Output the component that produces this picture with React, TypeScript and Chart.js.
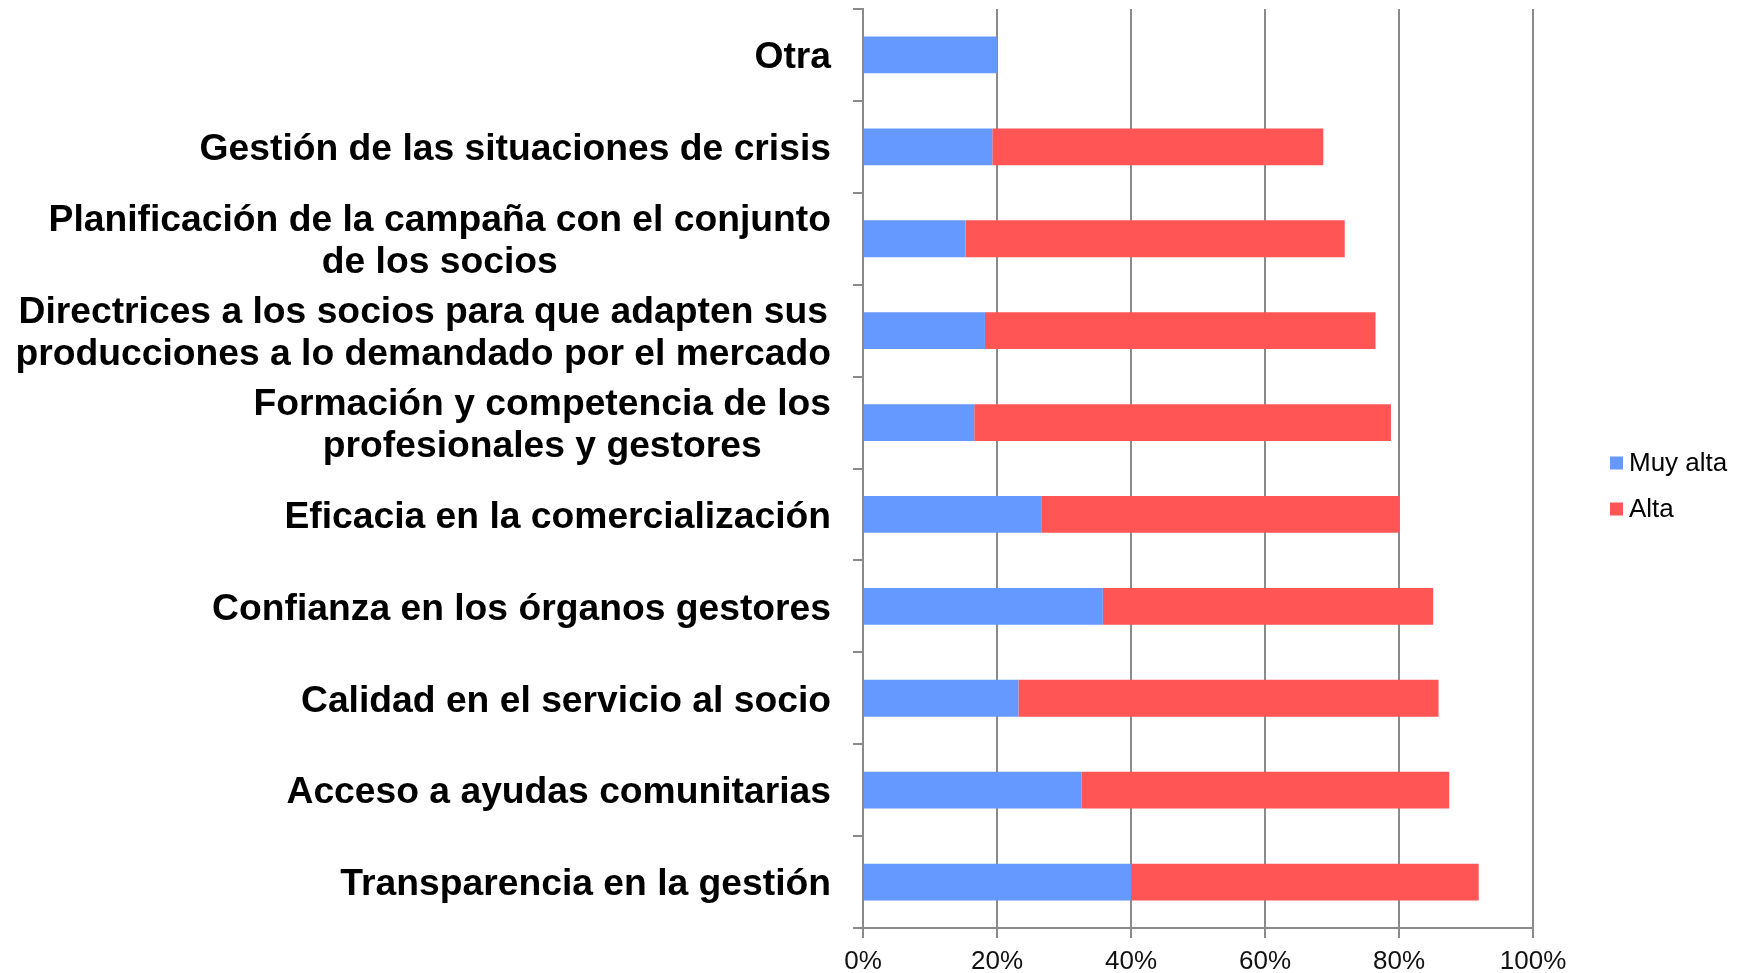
import React, { useEffect, useRef } from "react";
import { Chart, registerables } from "chart.js";

Chart.register(...registerables);

const categories: string[][] = [
  ["Otra"],
  ["Gestión de las situaciones de crisis"],
  ["Planificación de la campaña con el conjunto", "de los socios"],
  ["Directrices a los socios para que adapten sus", "producciones a lo demandado por el mercado"],
  ["Formación y competencia de los", "profesionales y gestores"],
  ["Eficacia en la comercialización"],
  ["Confianza en los órganos gestores"],
  ["Calidad en el servicio al socio"],
  ["Acceso a ayudas comunitarias"],
  ["Transparencia en la gestión"],
];

const muyAlta: number[] = [20.0, 19.3, 15.3, 18.2, 16.6, 26.6, 35.8, 23.2, 32.6, 40.0];
const alta: (number | null)[] = [null, 49.4, 56.6, 58.3, 62.2, 53.4, 49.3, 62.7, 54.9, 51.9];
const seriesNames = ["Muy alta", "Alta"];
const seriesColors = ["#6699FF", "#FF5555"];
const xTickStep = 20;

const GRID = "#8a8a8a";
const FONT = '"Liberation Sans", Arial, sans-serif';

const yLabelPlugin = {
  id: "yLabels",
  afterDraw(chart: any) {
    const ctx = chart.ctx;
    const y = chart.scales.y;
    ctx.save();
    ctx.font = `bold 37.25px ${FONT}`;
    ctx.fillStyle = "#000";
    ctx.textAlign = "center";
    ctx.textBaseline = "middle";
    const right = y.right - 32;
    const lh = 42;
    categories.forEach((lines, i) => {
      const cy = y.getPixelForValue(i) + 3;
      const w = Math.max(...lines.map((l) => ctx.measureText(l).width));
      const cx = right - w / 2;
      lines.forEach((l, j) => {
        ctx.fillText(l, cx, cy + (j - (lines.length - 1) / 2) * lh);
      });
    });
    ctx.restore();
  },
};

const legendPlugin = {
  id: "customLegend",
  afterDraw(chart: any) {
    const ctx = chart.ctx;
    ctx.save();
    ctx.font = `26px ${FONT}`;
    ctx.textBaseline = "middle";
    ctx.textAlign = "left";
    const x0 = 1610;
    const y0 = 463;
    const gap = 46;
    chart.data.datasets.forEach((ds: any, i: number) => {
      const cy = y0 + i * gap;
      ctx.fillStyle = ds.backgroundColor;
      ctx.fillRect(x0, cy - 6.5, 13, 13);
      ctx.fillStyle = "#000";
      ctx.fillText(ds.label, x0 + 19, cy + 1);
    });
    ctx.restore();
  },
};

export default function App() {
  const ref = useRef<HTMLCanvasElement | null>(null);

  useEffect(() => {
    document.body.style.margin = "0";
    const canvas = ref.current;
    if (!canvas) return;
    const chart = new Chart(canvas, {
      type: "bar",
      data: {
        labels: categories.map((c) => c.join(" ")),
        datasets: [
          {
            label: seriesNames[0],
            data: muyAlta,
            backgroundColor: seriesColors[0],
            borderWidth: 0,
            categoryPercentage: 1,
            barPercentage: 0.4,
          },
          {
            label: seriesNames[1],
            data: alta,
            backgroundColor: seriesColors[1],
            borderWidth: 0,
            categoryPercentage: 1,
            barPercentage: 0.4,
          },
        ],
      },
      options: {
        indexAxis: "y",
        responsive: false,
        animation: false,
        layout: { padding: { top: 9, right: 207, bottom: 0, left: 0 } },
        plugins: {
          legend: { display: false },
          tooltip: { enabled: false },
        },
        scales: {
          x: {
            stacked: true,
            min: 0,
            max: 100,
            ticks: {
              stepSize: xTickStep,
              callback: (v: any) => `${v}%`,
              color: "#111",
              font: { family: FONT, size: 26 },
              padding: 8,
              maxRotation: 0,
            },
            grid: { color: GRID, lineWidth: 2, tickLength: 10 },
            border: { color: GRID, width: 2 },
            afterFit: (s: any) => {
              s.height = 45;
            },
          },
          y: {
            stacked: true,
            ticks: { display: false },
            grid: {
              drawOnChartArea: false,
              offset: true,
              color: GRID,
              lineWidth: 2,
              tickLength: 10,
            },
            border: { color: GRID, width: 2 },
            afterFit: (s: any) => {
              s.width = 863;
            },
          },
        },
      },
      plugins: [yLabelPlugin, legendPlugin],
    });
    return () => chart.destroy();
  }, []);

  return (
    <div style={{ position: "absolute", left: 0, top: 0, width: 1740, height: 973, background: "#fff" }}>
      <canvas ref={ref} width={1740} height={973} style={{ display: "block" }} />
    </div>
  );
}
